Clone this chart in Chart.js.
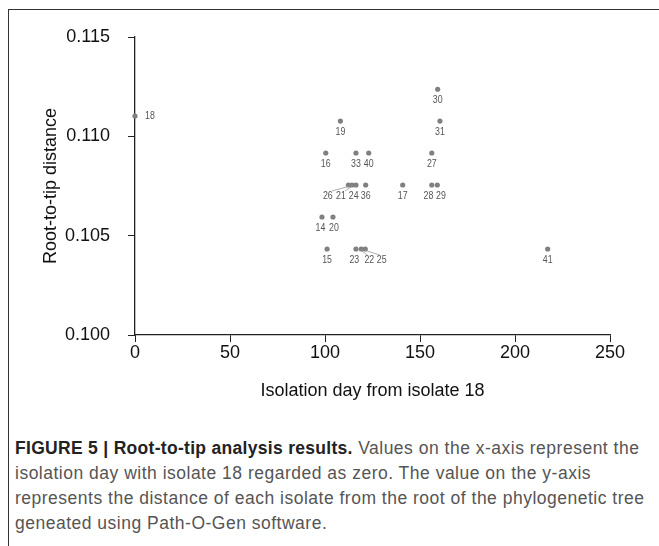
<!DOCTYPE html>
<html>
<head>
<meta charset="utf-8">
<script src="https://cdn.jsdelivr.net/npm/chart.js@4.4.0/dist/chart.umd.min.js"></script>
<style>
  body { margin: 0; background: #fff; font-family: "Liberation Sans", Arial, sans-serif; }
  #frame { position: absolute; left: 8px; top: 9px; width: 660px; height: 600px;
           border-top: 1px solid #333; border-left: 1px solid #333; }
  #myChart { position: absolute; left: 0; top: 0; }
  #caption { position: absolute; left: 15px; top: 436px; font-size: 17.5px; line-height: 25px;
             letter-spacing: 0.5px; color: #555; white-space: nowrap; }
  #caption b { color: #222; letter-spacing: 0.3px; }
</style>
</head>
<body>
<div id="frame"></div>
<canvas id="myChart" width="659" height="420"></canvas>
<div id="caption"><b>FIGURE 5 | Root-to-tip analysis results.</b> Values on the x-axis represent the<br>isolation day with isolate 18 regarded as zero. The value on the y-axis<br>represents the distance of each isolate from the root of the phylogenetic tree<br>geneated using Path-O-Gen software.</div>
<script>
const isolates = [18, 30, 19, 31, 16, 33, 40, 27, 26, 21, 24, 36, 17, 28, 29, 14, 20, 15, 23, 22, 25, 41];
const days = [0, 159.3, 108.1, 160.5, 100.4, 116.3, 123, 156.2, 112.3, 114.2, 116.3, 121.4, 140.9, 156.2, 159.1, 98.4, 104.2, 101.1, 116.3, 119.1, 121.2, 217.2];
const distances = [0.11102, 0.11237, 0.11077, 0.11077, 0.10916, 0.10916, 0.10916, 0.10916, 0.10755, 0.10755, 0.10755, 0.10755, 0.10755, 0.10755, 0.10755, 0.10594, 0.10594, 0.10433, 0.10433, 0.10433, 0.10433, 0.10433];
const yTicks = ['0.100', '0.105', '0.110', '0.115'];

// label nudges [dx, dy, align]; default is centred just under the dot
const labelShift = {
  18: [10, 0, 'left'], 26: [-20.6, 11], 21: [-11, 11], 24: [-2.3, 11],
  22: [8, 11], 25: [16.4, 11], 23: [-1.7, 11], 28: [-3.4, 11], 29: [3.7, 11],
  14: [-1.5, 11], 20: [1, 11]
};
const leaders = [26, 21, 22, 25];

const pointLabels = {
  id: 'pointLabels',
  afterDatasetsDraw(chart) {
    const c = chart.ctx;
    const meta = chart.getDatasetMeta(0);
    c.save();
    c.font = '11px "Liberation Sans", Arial, sans-serif';
    c.fillStyle = '#555';
    c.strokeStyle = '#999';
    c.lineWidth = 0.8;
    c.textBaseline = 'middle';
    meta.data.forEach((pt, i) => {
      const id = isolates[i];
      const s = labelShift[id] || [0, 11, 'center'];
      const lx = pt.x + s[0], ly = pt.y + s[1];
      // condensed digits like the original figure
      c.save();
      c.translate(lx, ly);
      c.scale(0.8, 1);
      c.textAlign = s[2] || 'center';
      c.fillText(String(id), 0, 0);
      c.restore();
      if (leaders.includes(id)) {
        c.beginPath();
        c.moveTo(pt.x, pt.y + 1.5);
        c.lineTo(lx + (s[0] < 0 ? 4 : -2), ly - 5);
        c.stroke();
      }
    });
    c.restore();
  }
};

const ctx = document.getElementById('myChart').getContext('2d');
const myChart = new Chart(ctx, {
  type: 'scatter',
  data: {
    datasets: [{
      data: days.map((d, i) => ({ x: d, y: distances[i] })),
      backgroundColor: '#808080',
      borderWidth: 0,
      pointRadius: 2.6,
      clip: false
    }]
  },
  options: {
    responsive: false,
    animation: false,
    layout: { padding: { left: 0, top: 37, right: 49, bottom: 18 } },
    plugins: { legend: { display: false }, tooltip: { enabled: false } },
    scales: {
      x: {
        type: 'linear',
        min: 0,
        max: 250,
        ticks: { stepSize: 50, padding: 0, color: '#111', font: { size: 18, family: '"Liberation Sans", Arial' } },
        grid: { drawOnChartArea: false, tickLength: 7, color: '#222' },
        border: { color: '#222', width: 1.3 },
        title: { display: true, text: 'Isolation day from isolate 18', color: '#111',
                 font: { size: 18, family: '"Liberation Sans", Arial' }, padding: { top: 0, bottom: 0 } },
        afterFit: s => { s.height = 67; }
      },
      y: {
        min: 0.1,
        max: 0.115,
        ticks: { stepSize: 0.005, padding: 18, color: '#111', font: { size: 18, family: '"Liberation Sans", Arial' },
                 callback: (v) => yTicks.find(t => Math.abs(parseFloat(t) - v) < 1e-6) || '' },
        grid: { drawOnChartArea: false, tickLength: 7, color: '#222' },
        border: { color: '#222', width: 1.3 },
        title: { display: true, text: 'Root-to-tip distance', color: '#111',
                 font: { size: 18, family: '"Liberation Sans", Arial' }, padding: { top: 40, bottom: 0 } },
        afterFit: s => { s.width = 135; }
      }
    }
  },
  plugins: [pointLabels]
});
</script>
</body>
</html>
